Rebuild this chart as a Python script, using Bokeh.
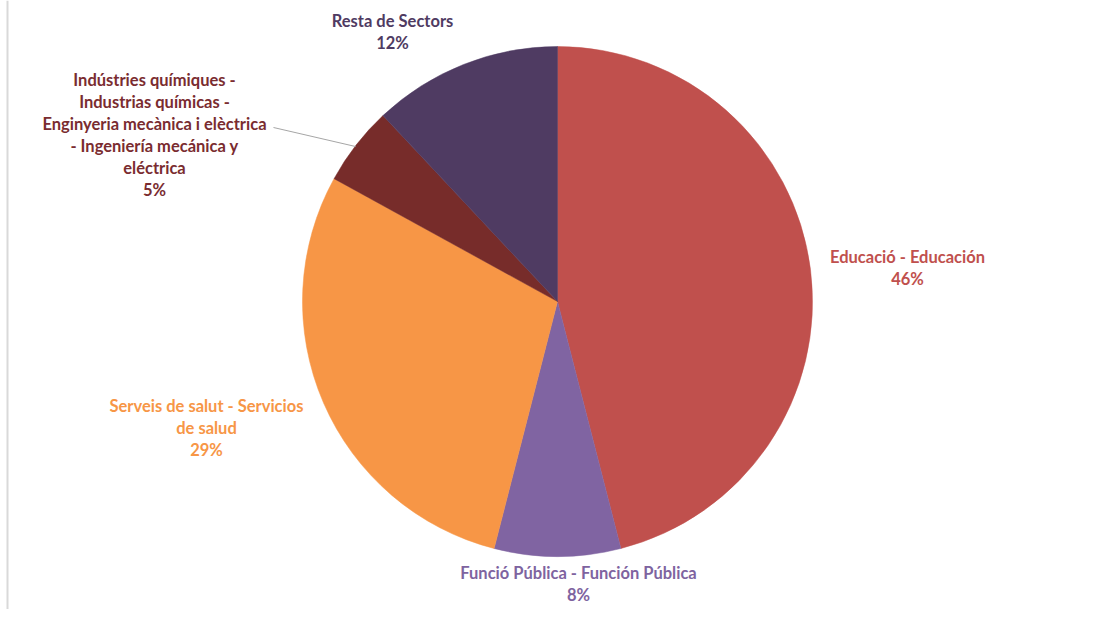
import math
from bokeh.plotting import figure
from bokeh.models import Range1d, ColumnDataSource
from bokeh.core.properties import value
from bokeh.embed import file_html
from bokeh.resources import INLINE

# ---- data ----
categories = [
    "Educació - Educación",
    "Funció Pública - Función Pública",
    "Serveis de salut - Servicios de salud",
    "Indústries químiques - Industrias químicas - Enginyeria mecànica i elèctrica - Ingeniería mecánica y eléctrica",
    "Resta de Sectors",
]
shares = [46, 8, 29, 5, 12]
pct_labels = ["46%", "8%", "29%", "5%", "12%"]
label_lines = [
    ["Educació - Educación"],
    ["Funció Pública - Función Pública"],
    ["Serveis de salut - Servicios", "de salud"],
    ["Indústries químiques -", "Industrias químicas -", "Enginyeria mecànica i elèctrica",
     "- Ingeniería mecánica y", "eléctrica"],
    ["Resta de Sectors"],
]
colors = ["#C0504D", "#8064A2", "#F79646", "#772C2A", "#4F3B62"]
text_colors = ["#C0504D", "#7E63A0", "#F79646", "#7A2C30", "#4F3B62"]

# ---- layout (screen pixels, y down) ----
W, H = 1099, 609
CX, CY, R = 557, 301, 255
LINE_H = 22
# top-line anchor (center x, first line middle y) per label
label_anchor = [(907, 256), (578, 572), (206, 405), (154, 79), (392, 20)]
leader = [(273, 127), (355, 146)]
frame_x, frame_bottom = 7, 612

p = figure(width=W, height=H, output_backend="svg", toolbar_location=None,
           x_range=Range1d(0, W), y_range=Range1d(-H, 0),
           min_border=0)
p.axis.visible = False
p.grid.visible = False
p.outline_line_color = None
p.background_fill_color = "white"
p.border_fill_color = "white"

# faint chart-area frame on the left
p.line(x=[frame_x, frame_x], y=[0, -frame_bottom], line_color="#D9D9D9", line_width=2)

total = float(sum(shares))
starts, ends = [], []
cum = 0.0
for s in shares:
    a0 = math.pi / 2 - 2 * math.pi * cum / total
    cum += s
    a1 = math.pi / 2 - 2 * math.pi * cum / total
    starts.append(a1)
    ends.append(a0)

src = ColumnDataSource(dict(start=starts, end=ends, color=colors, cat=categories, share=shares))
p.wedge(x=CX, y=-CY, radius=R, start_angle="start", end_angle="end",
        fill_color="color", line_color="color", line_width=0.5, source=src)

# leader line for the small slice
p.line(x=[leader[0][0], leader[1][0]], y=[-leader[0][1], -leader[1][1]],
       line_color="#A6A6A6", line_width=1)

xs, ys, txt, tcol = [], [], [], []
for i, lines in enumerate(label_lines):
    ax, ay = label_anchor[i]
    allines = lines + [pct_labels[i]]
    for j, t in enumerate(allines):
        xs.append(ax)
        ys.append(-(ay + j * LINE_H))
        txt.append(t)
        tcol.append(text_colors[i])

tsrc = ColumnDataSource(dict(x=xs, y=ys, text=txt, color=tcol))
p.text(x="x", y="y", text="text", source=tsrc, text_color="color",
       text_font=value("Lato"), text_font_style="bold", text_font_size="16.5px",
       text_align="center", text_baseline="middle")

open("out.html", "w").write(file_html(p, INLINE))
